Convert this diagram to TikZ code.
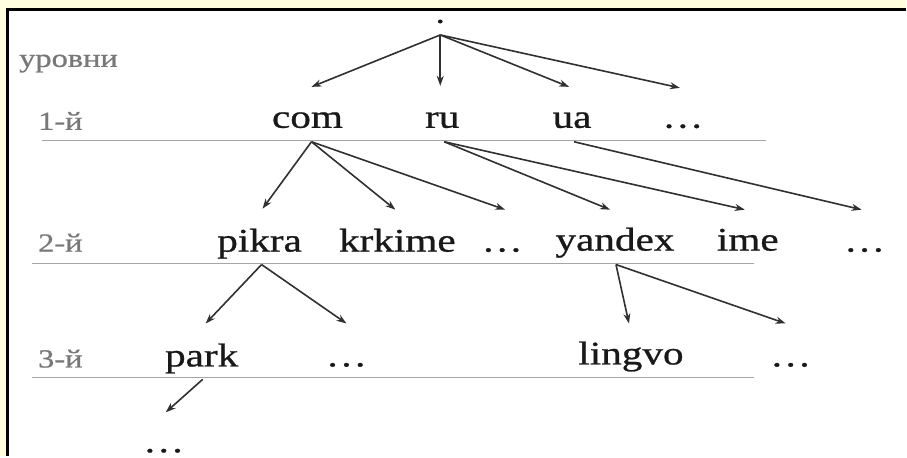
\documentclass[tikz,border=0pt]{standalone}
\usepackage{fontspec}
\setmainfont{Liberation Serif}[FakeStretch=1.25, FakeBold=0.8]
\usetikzlibrary{arrows.meta}
\definecolor{pagebg}{RGB}{255,255,224}
\definecolor{labelgray}{RGB}{120,120,120}
\definecolor{rulegray}{RGB}{165,165,165}
\definecolor{ink}{RGB}{25,25,25}
\tikzset{
  dname/.style={anchor=base, inner sep=0pt, text=ink,
    font=\fontsize{33}{40}\selectfont},
  rootname/.style={anchor=base, inner sep=0pt, text=ink,
    font=\fontsize{22}{24}\selectfont\bfseries},
  levellabel/.style={anchor=base west, inner sep=0pt, text=labelgray,
    font=\fontsize{26}{30}\selectfont},
  levelrule/.style={draw=rulegray, line width=1.3pt},
  arr/.style={draw=ink!90, line width=1.6pt,
    -{Stealth[length=10pt,width=7pt]}},
  frameline/.style={draw=black, line width=3pt}
}
\begin{document}
\begin{tikzpicture}[x=1pt, y=-1pt]
  % page background and frame
  \fill[pagebg] (0,0) rectangle (907,457);
  \fill[white] (8,10) rectangle (907,457);
  \draw[frameline] (8,457) -- (8,10) -- (907,10);
  \useasboundingbox (0,0) rectangle (907,457);

  % level captions
  \node[levellabel] (lvl)  at (19,67)  {уровни};
  \node[levellabel] (lvl1) at (38,130) {1-й};
  \node[levellabel] (lvl2) at (38,252) {2-й};
  \node[levellabel] (lvl3) at (38,368) {3-й};

  % level separators
  \coordinate (r1a) at (42,141);  \coordinate (r1b) at (767,141);
  \coordinate (r2a) at (32,264);  \coordinate (r2b) at (755,264);
  \coordinate (r3a) at (32,378);  \coordinate (r3b) at (755,378);
  \draw[levelrule] (r1a) -- (r1b);
  \draw[levelrule] (r2a) -- (r2b);
  \draw[levelrule] (r3a) -- (r3b);

  % root
  \node[rootname, text height=4pt, text depth=0pt] (root) at (441,23) {.};
  \coordinate (root-out) at (441,35);

  % first level
  \node[dname] (com) at (308,128) {com};
  \node[dname] (ru)  at (443,128) {ru};
  \node[dname] (ua)  at (573,128) {ua};
  \node[dname] (d1)  at (684,128) {\ldots};
  \coordinate (com-in) at (312,87);  \coordinate (com-out) at (312,142);
  \coordinate (ru-in)  at (441,86);  \coordinate (ru-out)  at (445,142);
  \coordinate (ua-in)  at (570,87);  \coordinate (ua-out)  at (575,142);
  \coordinate (d1-in)  at (681,88);

  % second level
  \node[dname] (pikra)  at (260,252) {pikra};
  \node[dname] (krkime) at (398,252) {krkime};
  \node[dname] (d2a)    at (503,252) {\ldots};
  \node[dname] (yandex) at (616,251) {yandex};
  \node[dname] (ime)    at (749,251) {ime};
  \node[dname] (d2b)    at (866,252) {\ldots};
  \coordinate (pikra-in)  at (263,209); \coordinate (pikra-out)  at (262,265);
  \coordinate (krkime-in) at (396,210);
  \coordinate (d2a-in)    at (506,210);
  \coordinate (yandex-in) at (611,210); \coordinate (yandex-out) at (617,265);
  \coordinate (ime-in)    at (746,210);
  \coordinate (d2b-in)    at (863,210);

  % third level
  \node[dname] (park)   at (202,367) {park};
  \node[dname] (d3a)    at (347,367) {\ldots};
  \node[dname] (lingvo) at (632,365) {lingvo};
  \node[dname] (d3b)    at (792,367) {\ldots};
  \coordinate (park-in)   at (206,324); \coordinate (park-out) at (203,380);
  \coordinate (d3a-in)    at (347,324);
  \coordinate (lingvo-in) at (630,324);
  \coordinate (d3b-in)    at (787,324);

  % fourth level
  \node[dname, text height=5pt, text depth=0pt] (d4) at (164,453) {\ldots};
  \coordinate (d4-in) at (166,413);

  % links
  \foreach \t in {com,ru,ua,d1} \draw[arr] (root-out) -- (\t-in);
  \foreach \t in {pikra,krkime,d2a} \draw[arr] (com-out) -- (\t-in);
  \foreach \t in {yandex,ime} \draw[arr] (ru-out) -- (\t-in);
  \draw[arr] (ua-out) -- (d2b-in);
  \foreach \t in {park,d3a} \draw[arr] (pikra-out) -- (\t-in);
  \foreach \t in {lingvo,d3b} \draw[arr] (yandex-out) -- (\t-in);
  \draw[arr] (park-out) -- (d4-in);
\end{tikzpicture}
\end{document}
